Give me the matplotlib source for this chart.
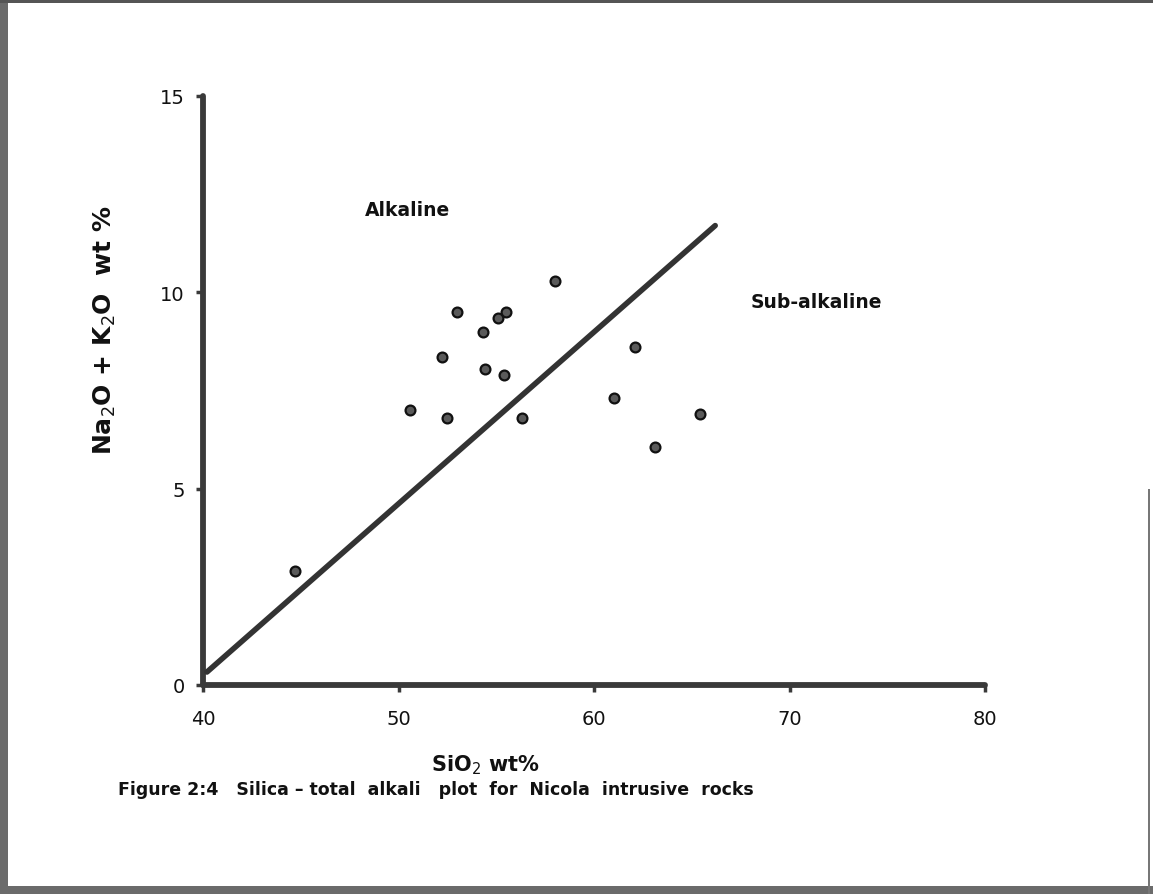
import matplotlib
matplotlib.use("Agg")
import matplotlib.pyplot as plt
from matplotlib.patches import Rectangle

# ---- data ----
sio2 = [58.0, 53.0, 55.1, 55.5, 54.3, 52.2, 54.4, 55.4, 50.6, 52.5, 56.3,
        62.1, 61.0, 63.1, 65.4, 44.7]
alkali = [10.3, 9.5, 9.35, 9.5, 9.0, 8.35, 8.05, 7.9, 7.0, 6.8, 6.8,
          8.6, 7.3, 6.05, 6.9, 2.9]
divider_x = [40.2, 66.2]
divider_y = [0.33, 11.7]
xticks = [40, 50, 60, 70, 80]
yticks = [0, 5, 10, 15]
region_labels = ["Alkaline", "Sub-alkaline"]
region_pos = [(48.3, 12.1), (68.0, 9.77)]

plt.rcParams['font.family'] = ['DejaVu Sans']
plt.rcParams['mathtext.fontset'] = 'dejavusans'

W, H = 1153, 895
fig = plt.figure(figsize=(W / 100, H / 100), dpi=100)
fig.patch.set_facecolor('white')

ax = fig.add_axes([203 / W, 1 - 686 / H, (985 - 203) / W, (686 - 97) / H])
ax.set_xlim(40, 80)
ax.set_ylim(0, 15)
ax.set_facecolor('white')

axis_col = '#3a3a3a'
for s in ['top', 'right']:
    ax.spines[s].set_visible(False)
for s in ['left', 'bottom']:
    ax.spines[s].set_linewidth(4.2)
    ax.spines[s].set_color(axis_col)
    ax.spines[s].set_capstyle('round')

ax.set_xticks(xticks)
ax.set_yticks(yticks)
ax.set_xticklabels([str(v) for v in xticks])
ax.set_yticklabels([str(v) for v in yticks])
ax.tick_params(axis='both', direction='out', length=5, width=2.5,
               color=axis_col, labelsize=14, labelcolor='#111111')
ax.tick_params(axis='x', pad=12)
ax.tick_params(axis='y', pad=8)

# divider line
ax.plot(divider_x, divider_y, color='#333333', linewidth=4.0,
        solid_capstyle='round', zorder=3)

# samples
ax.scatter(sio2, alkali, s=50, facecolor='#5a5a5a', edgecolor='#111111',
           linewidth=1.6, zorder=4)

# region labels
for lab, (px, py) in zip(region_labels, region_pos):
    ax.text(px, py, lab, fontsize=13.5, fontweight='bold', color='#111111',
            ha='left', va='center')

# axis titles
fig.text(105 / W, 1 - 330 / H, r"Na$_2$O + K$_2$O  wt %", rotation=90,
         fontsize=18, fontweight='bold', color='#111111',
         ha='center', va='center')
fig.text(485 / W, 1 - 765 / H, r"SiO$_2$ wt%", fontsize=15,
         fontweight='bold', color='#111111', ha='center', va='center')

# caption
fig.text(118 / W, 1 - 790 / H,
         "Figure 2:4   Silica \u2013 total  alkali   plot  for  Nicola  intrusive  rocks",
         fontsize=12.5, fontweight='bold', color='#111111',
         ha='left', va='center')

# scanned page border
fig.patches.append(Rectangle((0, 0), 8 / W, 1, transform=fig.transFigure,
                             facecolor='#6b6b6b', edgecolor='none', zorder=0))
fig.patches.append(Rectangle((0, 1 - 4 / H), 1, 4 / H, transform=fig.transFigure,
                             facecolor='#555555', edgecolor='none', zorder=0))
fig.patches.append(Rectangle((0, 0), 1, 8 / H, transform=fig.transFigure,
                             facecolor='#6b6b6b', edgecolor='none', zorder=0))
fig.patches.append(Rectangle((1 - 5 / W, 0), 2 / W, 1 - 490 / H,
                             transform=fig.transFigure,
                             facecolor='#777777', edgecolor='none', zorder=0))

fig.savefig("out.png", dpi=100, facecolor='white')
